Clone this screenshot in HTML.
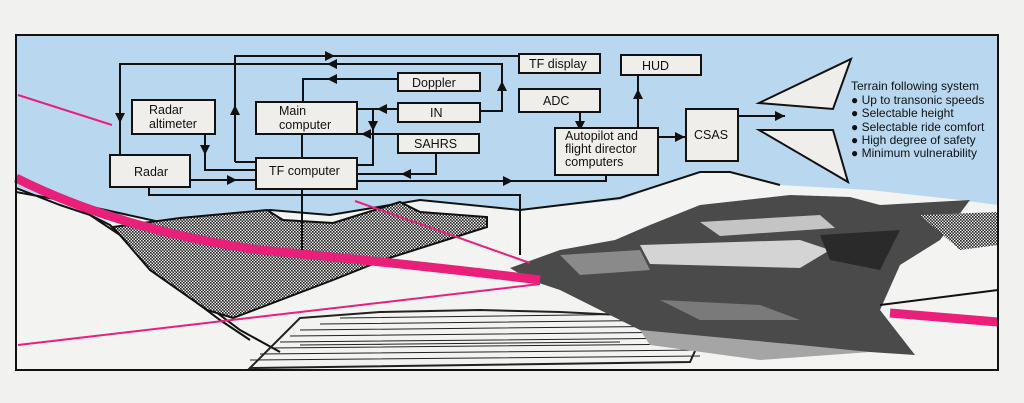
<!DOCTYPE html>
<html><head><meta charset="utf-8"><style>
html,body{margin:0;padding:0;background:#f1f1ef;}
svg{display:block}
text{font-family:"Liberation Sans",sans-serif;fill:#111;}
</style></head><body>
<svg width="1024" height="403" viewBox="0 0 1024 403" xmlns="http://www.w3.org/2000/svg">
<defs>
<pattern id="chk" width="3" height="3" patternUnits="userSpaceOnUse">
<rect width="3" height="3" fill="#eee"/><rect width="1.6" height="1.6" fill="#222"/><rect x="1.5" y="1.5" width="1.5" height="1.5" fill="#222"/>
</pattern>
<marker id="a" viewBox="0 0 10 10" refX="5" refY="5" markerWidth="5" markerHeight="5" orient="auto"><path d="M0,0L10,5L0,10z" fill="#111"/></marker>
</defs>
<rect width="1024" height="403" fill="#f1f1ef"/>
<rect x="16" y="35" width="982" height="335" fill="#f3f3f1"/>
<path d="M16,35H998V205L960,200L870,190L780,185L730,172L700,172L620,200L520,210L480,205L420,200L330,215L270,210L160,222L60,200L16,190Z" fill="#b9d8ef"/>
<path d="M16,192L60,200L160,222L270,210L330,215L420,200L520,210L620,198L700,172L730,172L780,185" fill="none" stroke="#111" stroke-width="2"/>
<path d="M16,188L60,205L90,215L120,235L160,262L200,300L240,330L280,352" fill="none" stroke="#111" stroke-width="2"/>
<path d="M80,210L110,225L140,255L180,290L220,320L250,340" fill="none" stroke="#111" stroke-width="2"/>
<path d="M113,227L180,218L267,210L283,220L333,223L400,202L420,212L487,217L487,227L383,260L333,280L233,318L207,310L150,270Z" fill="url(#chk)" stroke="#111" stroke-width="2"/>
<g stroke="#222" stroke-width="1" fill="none">
<path d="M300,330L700,326M290,336L700,332M280,342L700,338M270,348L700,344M260,354L700,350M250,360L700,356M320,324L690,320M340,318L660,314M300,345L620,342"/>
<path d="M300,318L380,312L480,310L560,312L680,318L700,340L690,362L250,368Z" stroke-width="2"/>
</g>
<!-- aircraft -->
<path d="M510,268L560,250L615,240L650,225L700,205L790,195L850,197L880,205L970,200L940,240L900,265L880,310L915,355L870,352L800,350L700,340L640,330L600,310L560,290L530,280Z" fill="#4a4a4a"/>
<path d="M560,255L640,250L650,270L580,275Z" fill="#8a8a8a"/>
<path d="M640,245L800,240L830,250L800,268L650,264Z" fill="#d4d4d4"/>
<path d="M700,222L820,215L835,228L720,236Z" fill="#c4c4c4"/>
<path d="M820,235L900,230L880,270L830,260Z" fill="#2a2a2a"/>
<path d="M660,300L760,305L800,320L700,320Z" fill="#7a7a7a"/>
<path d="M640,330L800,345L870,352L760,360L650,345Z" fill="#a5a5a5"/>
<path d="M920,215L998,212V245L960,250Z" fill="url(#chk)"/>
<path d="M16,178Q120,230 260,250Q420,265 540,280" fill="none" stroke="#e8207a" stroke-width="9"/>
<path d="M18,95L112,125M355,201L530,263M18,345L540,284" stroke="#e8207a" stroke-width="2"/>
<path d="M890,313L998,322" stroke="#e8207a" stroke-width="9"/>
<path d="M880,305L998,290" stroke="#111" stroke-width="2"/>
<rect x="16" y="35" width="982" height="335" fill="none" stroke="#111" stroke-width="2"/>
<g stroke="#111" stroke-width="2" fill="none">
<path d="M235,162V56H519"/><path d="M235,130V110" marker-end="url(#a)"/><path d="M300,56H330" marker-end="url(#a)"/>
<path d="M235,162H256"/>
<path d="M480,111H502V64H120V155"/><path d="M502,100V86" marker-end="url(#a)"/><path d="M360,64H332" marker-end="url(#a)"/><path d="M120,100V118" marker-end="url(#a)"/>
<path d="M398,79H303V102"/><path d="M350,79H332" marker-end="url(#a)"/>
<path d="M398,109H357"/><path d="M398,109H382" marker-end="url(#a)"/>
<path d="M373,109V165H357"/><path d="M373,112V126" marker-end="url(#a)"/>
<path d="M398,134H357"/><path d="M380,134H366" marker-end="url(#a)"/>
<path d="M436,153V174H357"/><path d="M420,174H406" marker-end="url(#a)"/>
<path d="M302,134V158"/>
<path d="M205,134V170H256"/><path d="M205,138V150" marker-end="url(#a)"/>
<path d="M190,180H256"/><path d="M215,180H232" marker-end="url(#a)"/>
<path d="M357,181H606V175"/><path d="M490,181H508" marker-end="url(#a)"/>
<path d="M149,187V195H520V255"/><path d="M302,189V250"/>
<path d="M580,112V128"/><path d="M580,112V126" marker-end="url(#a)"/>
<path d="M638,128V75"/><path d="M638,110V94" marker-end="url(#a)"/>
<path d="M658,137H686"/><path d="M662,137H680" marker-end="url(#a)"/>
<path d="M738,116H785"/><path d="M760,116H780" marker-end="url(#a)"/>
</g>
<g fill="#efeeea" stroke="#111" stroke-width="2">
<rect x="519" y="54" width="81" height="19"/>
<rect x="398" y="73" width="82" height="18"/>
<rect x="398" y="103" width="82" height="19"/>
<rect x="398" y="134" width="81" height="19"/>
<rect x="256" y="102" width="101" height="32"/>
<rect x="132" y="100" width="83" height="34"/>
<rect x="110" y="155" width="80" height="32"/>
<rect x="256" y="158" width="101" height="31"/>
<rect x="519" y="89" width="81" height="23"/>
<rect x="555" y="128" width="103" height="47"/>
<rect x="621" y="55" width="80" height="20"/>
<rect x="686" y="109" width="52" height="52"/>
<path d="M759,103L851,59L833,109Z"/>
<path d="M759,130L833,130L848,182Z"/>
</g>
<g font-size="12.5">
<text x="529" y="68">TF display</text>
<text x="412" y="87">Doppler</text>
<text x="430" y="117">IN</text>
<text x="414" y="148">SAHRS</text>
<text x="279" y="115">Main</text><text x="279" y="129">computer</text>
<text x="149" y="114">Radar</text><text x="149" y="128">altimeter</text>
<text x="134" y="176">Radar</text>
<text x="269" y="175">TF computer</text>
<text x="543" y="105">ADC</text>
<text x="565" y="140">Autopilot and</text><text x="565" y="153">flight director</text><text x="565" y="166">computers</text>
<text x="642" y="70">HUD</text>
<text x="694" y="139">CSAS</text>
</g>
<g font-size="12">
<text x="851" y="90">Terrain following system</text>
<text x="851" y="104">● Up to transonic speeds</text>
<text x="851" y="117">● Selectable height</text>
<text x="851" y="131">● Selectable ride comfort</text>
<text x="851" y="144">● High degree of safety</text>
<text x="851" y="157">● Minimum vulnerability</text>
</g>
</svg>
</body></html>
